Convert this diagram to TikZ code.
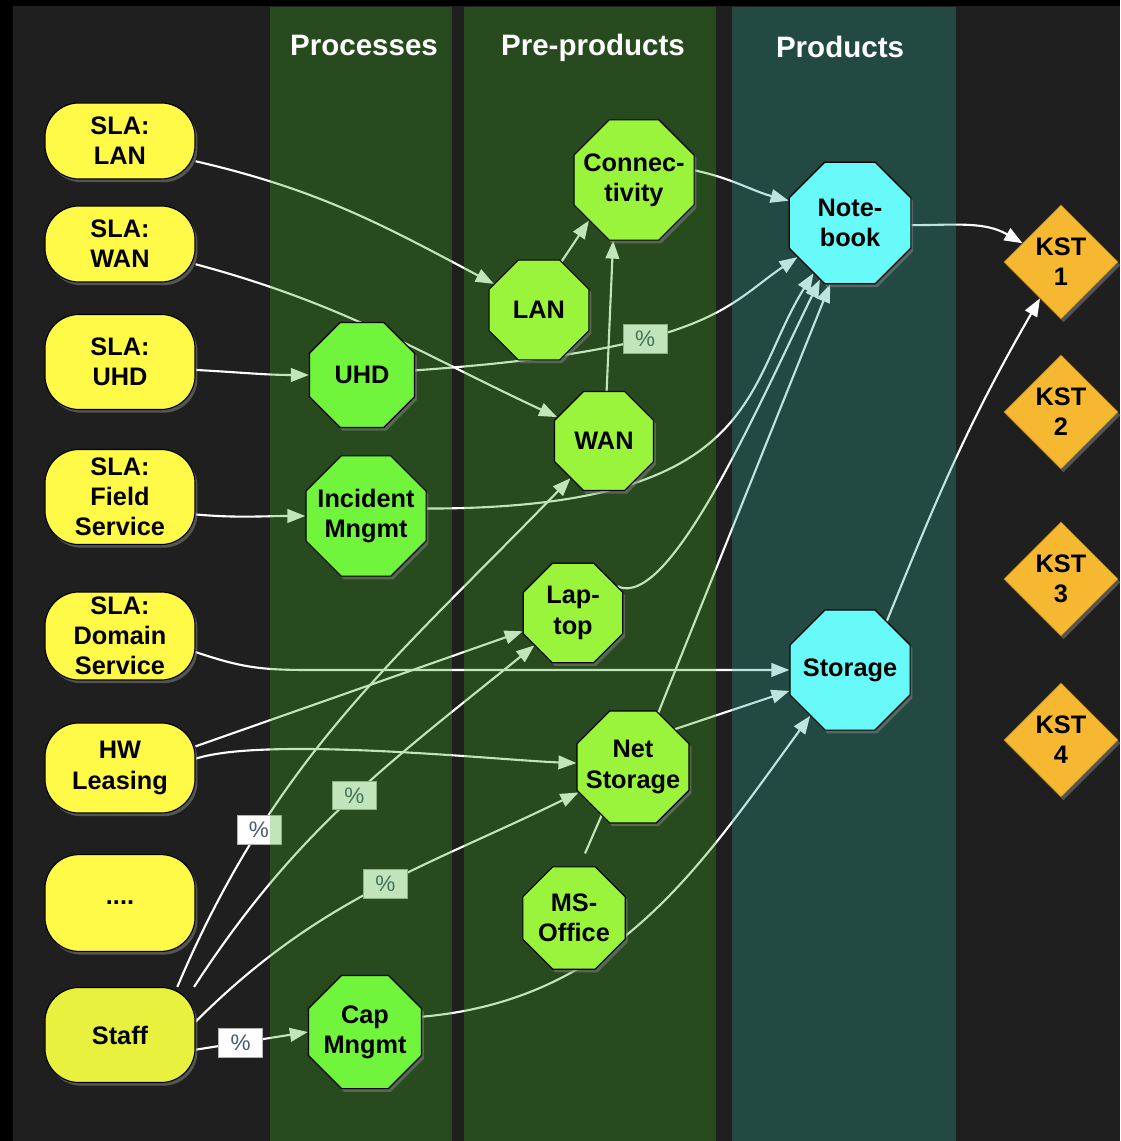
\documentclass[tikz,border=0pt]{standalone}
\usepackage{fontspec}
\setmainfont{Liberation Sans}
\usetikzlibrary{shapes.geometric,arrows.meta,shadows,positioning}

\definecolor{bggray}{RGB}{31,31,31}
\definecolor{bandgreen}{RGB}{61,171,34}
\definecolor{bandteal}{RGB}{43,171,150}
\definecolor{slayellow}{RGB}{255,249,72}
\definecolor{staffyellow}{RGB}{232,242,62}
\definecolor{procgreen}{RGB}{112,244,60}
\definecolor{pregreen}{RGB}{154,244,60}
\definecolor{prodcyan}{RGB}{104,250,248}
\definecolor{kstorange}{RGB}{246,184,48}
\definecolor{flowwhite}{RGB}{255,255,255}
\definecolor{pcttext}{RGB}{70,90,112}

\pgfdeclarelayer{background}
\pgfdeclarelayer{edges}
\pgfdeclarelayer{bands}
\pgfsetlayers{background,edges,bands,main}

\newcommand{\nodefont}{\fontsize{18}{21.5}\selectfont\bfseries}
\newcommand{\headfont}{\fontsize{21}{25}\selectfont\bfseries}

\tikzset{
  shade/.style={drop shadow={opacity=0.55, shadow xshift=0.06cm, shadow yshift=-0.08cm}},
  sla/.style={draw=black, line width=0.8pt, fill=slayellow, rounded corners=0.85cm,
    minimum width=3.75cm, minimum height=2.375cm, inner sep=0pt,
    align=center, font=\nodefont, text=black, shade},
  oct/.style={regular polygon, regular polygon sides=8, minimum size=#1, inner sep=-0.5cm,
    draw=black, line width=0.8pt, align=center, font=\nodefont, text=black, shade},
  proc/.style={fill=procgreen},
  pre/.style={fill=pregreen},
  prod/.style={fill=prodcyan},
  kst/.style={diamond, aspect=1, minimum width=2.85cm, minimum height=2.85cm,
    inner sep=0pt, fill=kstorange, draw=kstorange!70!black, line width=0.4pt,
    align=center, font=\nodefont, text=black, shade},
  head/.style={text=white, font=\headfont, anchor=base},
  band/.style={fill=#1, fill opacity=0.31},
  flow/.style={draw=flowwhite, line width=1.5pt, -{Triangle[length=0.45cm,width=0.34cm]}},
  link/.style={draw=flowwhite, line width=1.5pt},
  pct/.style={draw=gray!60, line width=0.4pt, fill=white, text=pcttext,
    font=\fontsize{16}{18}\selectfont, minimum width=1.1cm, minimum height=0.72cm, inner sep=0pt},
}

\begin{document}
\begin{tikzpicture}[x=0.025cm, y=0.025cm]
  \useasboundingbox (0,0) rectangle (1120,-1141);

  % frame
  \begin{pgfonlayer}{background}
    \fill[black] (0,0) rectangle (1120,-1141);
    \fill[bggray] (13,-6) rectangle (1120,-1141);
  \end{pgfonlayer}

  % columns
  \begin{pgfonlayer}{bands}
    \fill[band=bandgreen] (270,-7) rectangle (452,-1141);
    \fill[band=bandgreen] (464,-7) rectangle (716,-1141);
    \fill[band=bandteal] (732,-7) rectangle (956,-1141);
  \end{pgfonlayer}
  \node[head] (hproc) at (364,-56) {Processes};
  \node[head] (hpre) at (593,-56) {Pre-products};
  \node[head] (hprod) at (840,-58) {Products};

  % SLAs and resources
  \node[sla, minimum height=1.9cm] (slaLAN) at (120,-141) {SLA:\\LAN};
  \node[sla, minimum height=1.9cm] (slaWAN) at (120,-244) {SLA:\\WAN};
  \node[sla] (slaUHD) at (120,-362) {SLA:\\UHD};
  \node[sla] (slaField) at (120,-497) {SLA:\\Field\\Service};
  \node[sla, minimum height=2.2cm] (slaDomain) at (120,-636) {SLA:\\Domain\\Service};
  \node[sla, minimum height=2.25cm] (hwLeasing) at (120,-768) {HW\\Leasing};
  \node[sla, minimum height=2.42cm] (more) at (120,-903) {....};
  \node[sla, fill=staffyellow] (staff) at (120,-1035) {Staff};

  % processes
  \node[oct=2.84cm, proc] (uhd) at (362,-375) {UHD};
  \node[oct=3.25cm, proc] (incident) at (366,-516) {Incident\\Mngmt};
  \node[oct=3.06cm, proc] (cap) at (365,-1032) {Cap\\Mngmt};

  % pre-products
  \node[oct=3.25cm, pre] (conn) at (634,-180) {Connec-\\tivity};
  \node[oct=2.7cm, pre] (lan) at (539,-310) {LAN};
  \node[oct=2.68cm, pre] (wan) at (604,-441) {WAN};
  \node[oct=2.69cm, pre] (laptop) at (573,-613) {Lap-\\top};
  \node[oct=3.03cm, pre] (netstor) at (633,-767) {Net\\Storage};
  \node[oct=2.77cm, pre] (msOffice) at (574,-918) {MS-\\Office};

  % products
  \node[oct=3.29cm, prod] (notebook) at (850,-223) {Note-\\book};
  \node[oct=3.25cm, prod] (storage) at (850,-670) {Storage};

  % cost centres
  \node[kst] (kst1) at (1061,-262) {KST\\1};
  \node[kst] (kst2) at (1061,-412) {KST\\2};
  \node[kst] (kst3) at (1061,-579) {KST\\3};
  \node[kst] (kst4) at (1061,-740) {KST\\4};

  \begin{pgfonlayer}{edges}
    % SLA inputs
    \draw[flow] (slaLAN.-15) to[out=-13,in=152] (lan.150);
    \draw[flow] (slaWAN.-15) to[out=-15,in=155] (wan.153);
    \draw[flow] (slaUHD.-6) to[out=-3,in=180] (uhd.west);
    \draw[flow] (slaField.-13) to[out=-5,in=180] (incident.west);
    \draw[flow] (slaDomain.-12) .. controls +(45,-15) and +(-50,0) .. (storage.west -| uhd.west) -- (storage.west);
    \draw[flow] (hwLeasing.16) -- (laptop.200);
    \draw[flow] (hwLeasing.7) to[out=18,in=178,looseness=0.5] (netstor.176);

    % staff shares
    \draw[flow] (staff.40) to[out=67,in=226] node[pct,pos=0.26]{\%} (wan.228);
    \draw[flow] (staff.33) to[out=57,in=219] node[pct,pos=0.52]{\%} (laptop.220);
    \draw[flow] (staff.10) to[out=45,in=206] node[pct,pos=0.53]{\%} (netstor.205);
    \draw[flow] (staff.-11) -- node[pct,pos=0.4]{\%} (cap.west);

    % processes to products
    \draw[flow] (uhd.5) to[out=4,in=214,out looseness=1.9,in looseness=0.55] node[pct,pos=0.37]{\%} (notebook.213);
    \draw[flow] (incident.7) to[out=0,in=238,out looseness=1.9,in looseness=0.75] (notebook.234);
    \draw[flow] (cap.15) to[out=5,in=234] (storage.229);

    % pre-products
    \draw[flow] (lan.65) -- (conn.222);
    \draw[flow] (wan.87) -- (conn.251);
    \draw[flow] (conn.9) to[out=-12,in=165] (notebook.160);
    \draw[flow] (laptop.31) to[out=-25,in=244,out looseness=0.4] (notebook.242);
    \draw[flow] (netstor.65) -- (notebook.252);
    \draw[flow] (netstor.42) -- (storage.199);
    \draw[link, shorten <=0.35cm] (msOffice.84) -- (netstor.237);

    % products to cost centres
    \draw[flow] (notebook.-2) to[out=0,in=150] (kst1.154);
    \draw[flow] (storage.53) to[out=68,in=240] (kst1.240);
  \end{pgfonlayer}
\end{tikzpicture}
\end{document}
